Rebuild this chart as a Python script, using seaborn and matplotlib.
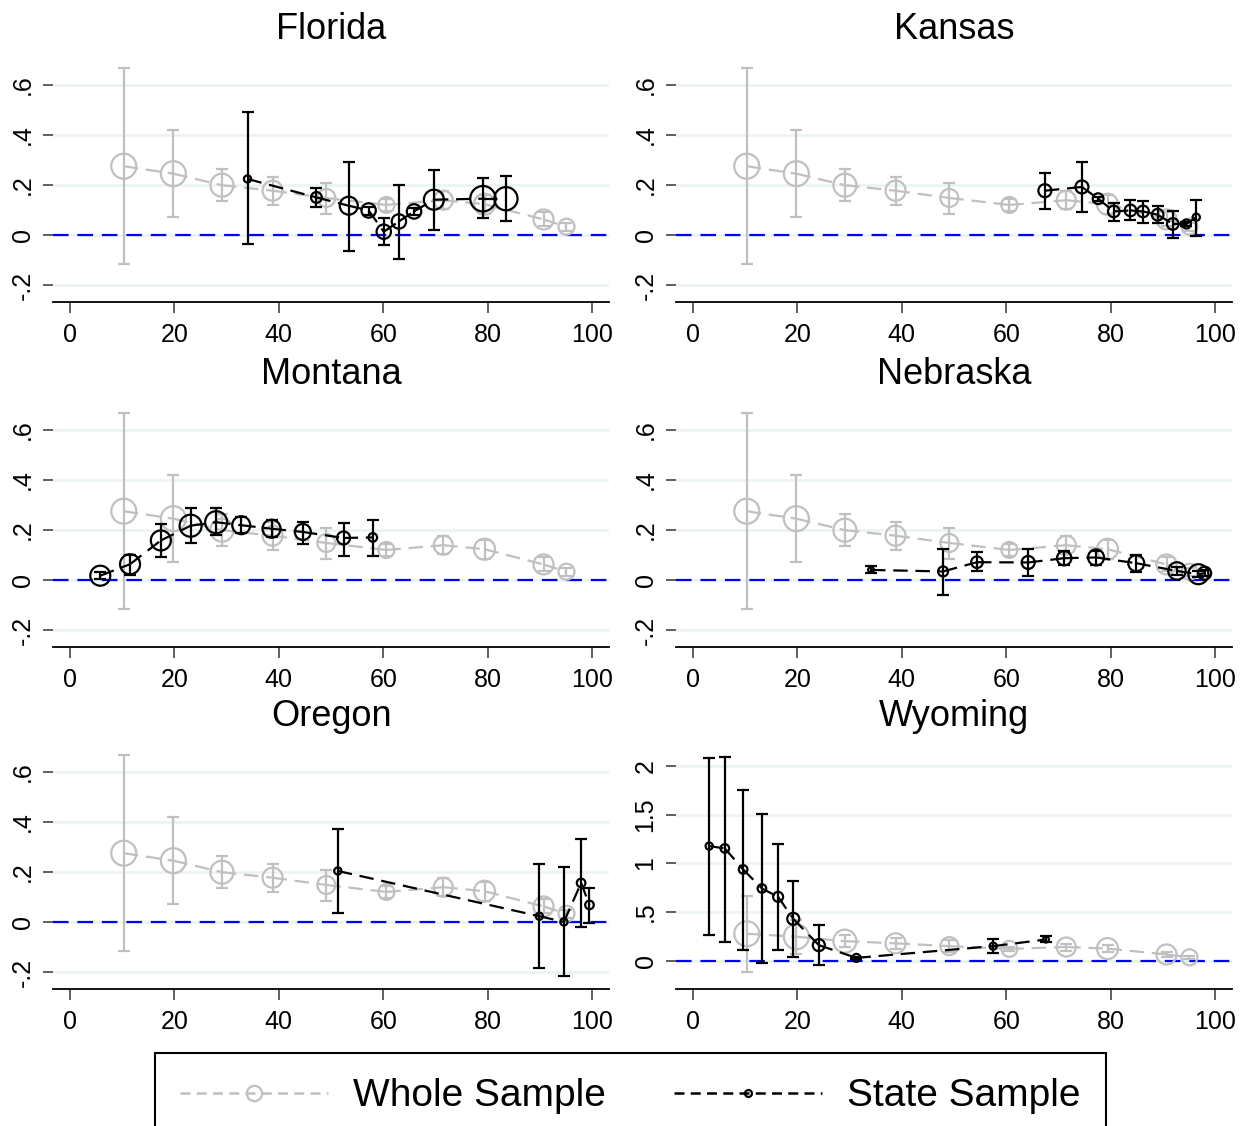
import numpy as np
import pandas as pd
import matplotlib
matplotlib.use("Agg")
import matplotlib.pyplot as plt
import seaborn as sns
from matplotlib.lines import Line2D

sns.set_theme(style="white")
plt.rcParams['font.family'] = ['Liberation Sans', 'DejaVu Sans']
plt.rcParams['text.color'] = 'black'

# ---------------- data ----------------
# Whole sample (same in every panel)
ws_x = [10.3, 19.8, 29.1, 38.8, 49.1, 60.6, 71.5, 79.4, 90.7, 95.1]
ws_y = [0.275, 0.245, 0.199, 0.177, 0.148, 0.120, 0.139, 0.123, 0.062, 0.033]
ws_lo = [-0.118, 0.070, 0.136, 0.120, 0.084, 0.096, 0.102, 0.084, 0.034, 0.017]
ws_hi = [0.668, 0.420, 0.262, 0.233, 0.208, 0.142, 0.174, 0.161, 0.092, 0.048]
ws_w = [12.5, 12.5, 11.5, 10, 9, 8, 9.5, 10.5, 10, 8]

# State samples
fl_x = [34.0, 47.2, 53.4, 57.2, 60.1, 63.0, 65.9, 69.7, 79.1, 83.5]
fl_y = [0.224, 0.150, 0.117, 0.098, 0.013, 0.054, 0.094, 0.141, 0.145, 0.145]
fl_lo = [-0.038, 0.110, -0.063, 0.080, -0.040, -0.097, 0.080, 0.020, 0.067, 0.054]
fl_hi = [0.490, 0.188, 0.291, 0.112, 0.067, 0.201, 0.108, 0.259, 0.228, 0.235]
fl_w = [3.6, 5.4, 9, 7.2, 7.2, 7.2, 7.2, 10, 12.7, 11.6]

ks_x = [67.4, 74.5, 77.6, 80.6, 83.8, 86.2, 89.0, 91.9, 94.5, 96.4]
ks_y = [0.177, 0.192, 0.145, 0.094, 0.098, 0.094, 0.081, 0.044, 0.044, 0.071]
ks_lo = [0.104, 0.090, 0.137, 0.056, 0.060, 0.047, 0.047, -0.013, 0.036, -0.004]
ks_hi = [0.246, 0.292, 0.153, 0.128, 0.138, 0.134, 0.114, 0.094, 0.052, 0.138]
ks_w = [6.5, 6.5, 5.4, 5.8, 5.8, 5.8, 5.8, 5.8, 4.5, 3.6]

mt_x = [5.8, 11.5, 17.4, 23.1, 28.0, 32.8, 38.6, 44.6, 52.4, 58.0]
mt_y = [0.017, 0.063, 0.158, 0.217, 0.231, 0.219, 0.205, 0.192, 0.168, 0.170]
mt_lo = [0.005, 0.020, 0.091, 0.148, 0.179, 0.188, 0.172, 0.145, 0.097, 0.094]
mt_hi = [0.030, 0.100, 0.225, 0.289, 0.286, 0.252, 0.239, 0.232, 0.228, 0.238]
mt_w = [10, 10, 10, 11, 11, 9, 9, 8, 6.5, 4.3]

nb_x = [34.1, 47.9, 54.4, 64.2, 71.1, 77.2, 84.9, 92.7, 96.8, 98.0]
nb_y = [0.040, 0.034, 0.071, 0.070, 0.087, 0.090, 0.067, 0.036, 0.023, 0.027]
nb_lo = [0.027, -0.060, 0.034, 0.016, 0.060, 0.060, 0.030, 0.020, 0.010, 0.015]
nb_hi = [0.054, 0.125, 0.110, 0.123, 0.114, 0.114, 0.100, 0.052, 0.036, 0.040]
nb_w = [2.9, 5, 5.8, 6.5, 7.2, 8, 8, 8.7, 10, 6.5]

or_x = [51.3, 89.9, 94.6, 97.9, 99.5]
or_y = [0.204, 0.023, 0.0, 0.156, 0.068]
or_lo = [0.037, -0.186, -0.215, -0.020, -0.004]
or_hi = [0.371, 0.230, 0.218, 0.331, 0.136]
or_w = [3.6, 3.6, 3.6, 4.3, 4.3]

wy_x = [3.1, 6.1, 9.6, 13.2, 16.3, 19.2, 24.1, 31.3, 57.5, 67.6]
wy_y = [1.177, 1.153, 0.937, 0.741, 0.655, 0.429, 0.158, 0.027, 0.148, 0.216]
wy_lo = [0.26, 0.19, 0.113, -0.024, 0.106, 0.034, -0.051, 0.015, 0.079, 0.19]
wy_hi = [2.08, 2.096, 1.753, 1.503, 1.194, 0.823, 0.364, 0.04, 0.226, 0.25]
wy_w = [3.6, 4.3, 4.3, 4.3, 5, 6, 6, 4, 3.6, 3]

states = ["Florida", "Kansas", "Montana", "Nebraska", "Oregon", "Wyoming"]
state_data = {
    "Florida": (fl_x, fl_y, fl_lo, fl_hi, fl_w),
    "Kansas": (ks_x, ks_y, ks_lo, ks_hi, ks_w),
    "Montana": (mt_x, mt_y, mt_lo, mt_hi, mt_w),
    "Nebraska": (nb_x, nb_y, nb_lo, nb_hi, nb_w),
    "Oregon": (or_x, or_y, or_lo, or_hi, or_w),
    "Wyoming": (wy_x, wy_y, wy_lo, wy_hi, wy_w),
}
x_ticks = [0, 20, 40, 60, 80, 100]
y_ticks = [-0.2, 0, 0.2, 0.4, 0.6]
y_labels = ["-.2", "0", ".2", ".4", ".6"]
wy_ticks = [0, 0.5, 1, 1.5, 2]
wy_labels = ["0", ".5", "1", "1.5", "2"]

legend_labels = ["Whole Sample", "State Sample"]

# ---------------- styles ----------------
GRAY = "#c0c0c0"
BLACK = "#000000"
GRID = "#eaf2f3"
W, H = 1244, 1126

fig = plt.figure(figsize=(W / 100, H / 100), dpi=100)

ax_w = 556 / W
ax_h = 241.75 / H
lefts = [53.3 / W, 676.3 / W]
bottoms_px = [301.7, 646.7, 988.7]


def msize(w):
    return (1.44 * np.asarray(w, dtype=float)) ** 2


def segments(x, y):
    # one unit per connecting segment so the dash pattern restarts at each point
    rows = []
    for k in range(len(x) - 1):
        rows.append((k, x[k], y[k]))
        rows.append((k, x[k + 1], y[k + 1]))
    return pd.DataFrame(rows, columns=["seg", "x", "y"])


def draw_series(ax, x, y, lo, hi, w, color, z):
    seg = segments(x, y)
    sns.lineplot(data=seg, x="x", y="y", units="seg", estimator=None,
                 ax=ax, color=color, lw=1.6, sort=False,
                 linestyle=(0, (6.5, 3.5)), zorder=z, legend=False)
    x = np.asarray(x); y = np.asarray(y)
    lo = np.asarray(lo); hi = np.asarray(hi)
    ax.errorbar(x, y, yerr=[y - lo, hi - y], fmt='none', ecolor=color,
                elinewidth=1.6, capsize=4.5, capthick=1.6, zorder=z + 0.1)
    ax.scatter(x, y, s=msize(w), facecolors='none', edgecolors=color,
               linewidths=1.6, zorder=z + 0.2)


for i, st in enumerate(states):
    row, col = divmod(i, 2)
    b = (H - bottoms_px[row]) / H
    ax = fig.add_axes([lefts[col], b, ax_w, ax_h])
    if st == "Wyoming":
        ax.set_ylim(-0.29, 2.197)
        yt, yl = wy_ticks, wy_labels
    else:
        ax.set_ylim(-0.267, 0.70)
        yt, yl = y_ticks, y_labels
    ax.set_xlim(-3.2, 103.3)
    ax.set_yticks(yt)
    ax.set_yticklabels(yl, rotation=90, va='center')
    ax.set_xticks(x_ticks)
    ax.set_xticklabels([str(t) for t in x_ticks])
    ax.yaxis.grid(True, color=GRID, lw=1.8)
    ax.xaxis.grid(False)
    ax.set_axisbelow(True)
    for s in ["left", "top", "right"]:
        ax.spines[s].set_visible(False)
    ax.spines["bottom"].set_color("black")
    ax.spines["bottom"].set_linewidth(1.3)
    ax.tick_params(axis='y', left=True, length=7.5, width=1.2, color='#444444',
                   pad=6, labelsize=18, labelcolor='black')
    ax.tick_params(axis='x', bottom=True, length=8, width=1.2, color='#444444',
                   pad=7, labelsize=18, labelcolor='black')
    ax.axhline(0, color='#0000ff', lw=1.6, ls=(0, (7, 4)), zorder=1.5)

    draw_series(ax, ws_x, ws_y, ws_lo, ws_hi, ws_w, GRAY, 2)
    sx, sy, slo, shi, sw = state_data[st]
    draw_series(ax, sx, sy, slo, shi, sw, BLACK, 3)

    ax.set_title(st, fontsize=26, pad=15, color='black')
    ax.set_xlabel("")
    ax.set_ylabel("")

handles = [
    Line2D([0], [0], color=GRAY, lw=1.8, ls=(0, (4, 2.5)), marker='o',
           mfc='none', mec=GRAY, ms=11, mew=1.6),
    Line2D([0], [0], color=BLACK, lw=1.8, ls=(0, (4, 2.5)), marker='o',
           mfc='none', mec=BLACK, ms=5, mew=1.6),
]
leg = fig.legend(handles, legend_labels, loc='upper center',
                 bbox_to_anchor=(630.5 / W, (H - 1053) / H), ncol=2,
                 fontsize=28, frameon=True, fancybox=False, edgecolor='black',
                 handlelength=3.8, handletextpad=0.65, columnspacing=1.75,
                 borderpad=0.65, borderaxespad=0, framealpha=1,
                 labelcolor='black')
leg.get_frame().set_linewidth(1.5)

fig.savefig("out.png", dpi=100, facecolor='white')
